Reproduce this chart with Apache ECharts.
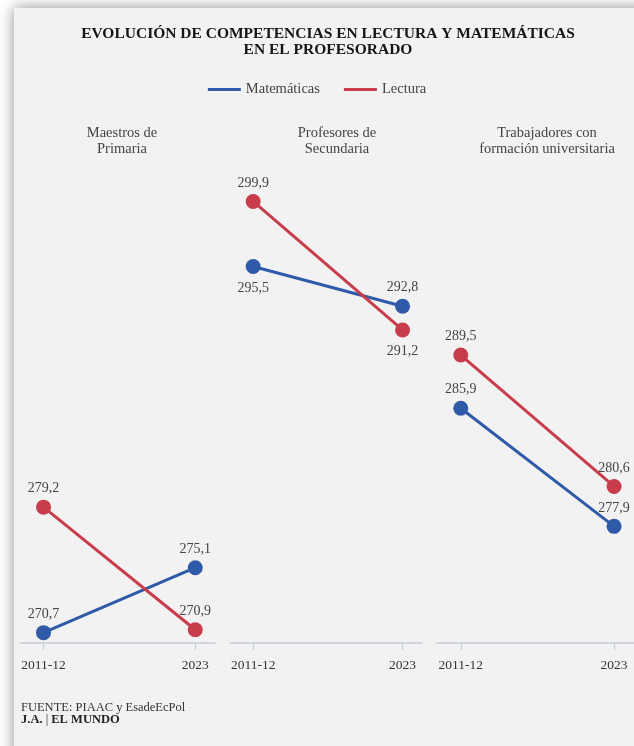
<!DOCTYPE html>
<html>
<head>
<meta charset="utf-8">
<script src="https://cdn.jsdelivr.net/npm/echarts@6/dist/echarts.min.js"></script>
<style>
html,body{margin:0;padding:0;background:#ffffff;}
#c{width:634px;height:746px;}
</style>
</head>
<body>
<div id="c"></div>
<script>
// ---- data ----
const categories = ['2011-12', '2023'];
const panelTitles = ['Maestros de\nPrimaria', 'Profesores de\nSecundaria', 'Trabajadores con\nformación universitaria'];
const seriesNames = ['Matemáticas', 'Lectura'];
const matematicas = [[270.7, 275.1], [295.5, 292.8], [285.9, 277.9]];
const lectura = [[279.2, 270.9], [299.9, 291.2], [289.5, 280.6]];

// ---- style / layout ----
const FONT = 'Liberation Serif';
const colors = ['#2f5aa8', '#c83c4c'];
const grids = [
  {left: 20, width: 195, center: 117},
  {left: 230, width: 192, center: 332},
  {left: 437, width: 197, center: 542}
];
const labelPos = [
  [['top', 'top'], ['bottom', 'top'], ['top', 'top']],
  [['top', 'top'], ['top', 'bottom'], ['top', 'top']]
];
const fmt = v => v.toFixed(1).replace('.', ',');

const chart = echarts.init(document.getElementById('c'), null, {renderer: 'canvas'});

const grid = [], xAxis = [], yAxis = [], series = [], titles = [];
titles.push({
  text: 'EVOLUCIÓN DE COMPETENCIAS EN LECTURA Y MATEMÁTICAS\nEN EL PROFESORADO',
  left: 323, top: 21, textAlign: 'center',
  textStyle: {fontFamily: FONT, fontWeight: 'bold', fontSize: 15.5, lineHeight: 16, color: '#151515'}
});
titles.push({
  text: 'FUENTE: PIAAC y EsadeEcPol\n{b|J.A.} | {b|EL MUNDO}',
  left: 16, top: 697,
  textStyle: {fontFamily: FONT, fontWeight: 'normal', fontSize: 12.5, lineHeight: 12, color: '#333',
    rich: {b: {fontFamily: FONT, fontSize: 12.5, fontWeight: 'bold', color: '#222', lineHeight: 12}}}
});
grids.forEach((g, i) => {
  grid.push({left: g.left, width: g.width, top: 200, height: 443});
  xAxis.push({
    type: 'value', gridIndex: i, min: -0.155, max: 1.13,
    axisLine: {show: true, onZero: false, lineStyle: {color: '#c5cdd9', width: 1.5}},
    axisTick: {show: true, customValues: [0, 1], length: 7, lineStyle: {color: '#c5cdd9', width: 1.2}},
    axisLabel: {customValues: [0, 1], formatter: v => categories[Math.round(v)], margin: 15,
      fontFamily: FONT, fontSize: 13.5, color: '#333'},
    splitLine: {show: false}
  });
  yAxis.push({type: 'value', gridIndex: i, min: 270, max: 300, show: false, splitLine: {show: false}});
  titles.push({
    text: panelTitles[i], left: g.center, top: 120, textAlign: 'center',
    textStyle: {fontFamily: FONT, fontWeight: 'normal', fontSize: 14.5, lineHeight: 16, color: '#444'}
  });
  [matematicas, lectura].forEach((arr, s) => {
    series.push({
      type: 'line', name: seriesNames[s], xAxisIndex: i, yAxisIndex: i,
      symbol: 'circle', symbolSize: 15,
      color: colors[s],
      lineStyle: {width: 3, color: colors[s]},
      itemStyle: {color: colors[s]},
      z: 2 + s,
      label: {show: true, fontFamily: FONT, fontSize: 14, color: '#444', formatter: p => fmt(p.value[1])},
      emphasis: {disabled: true},
      data: arr[i].map((v, j) => {
        const pos = labelPos[s][i][j];
        return {value: [j, v], label: {position: pos, distance: pos === 'top' ? 4 : 7}};
      })
    });
  });
});

chart.setOption({
  backgroundColor: '#ffffff',
  animation: false,
  graphic: [{
    type: 'rect', z: -10, silent: true,
    shape: {x: 14, y: 8, width: 700, height: 800},
    style: {fill: '#f2f2f2', shadowBlur: 14, shadowColor: 'rgba(0,0,0,0.45)'}
  }],
  title: titles,
  legend: {
    data: seriesNames, top: 77, left: 'center', icon: 'rect', itemWidth: 33, itemHeight: 3, itemGap: 24,
    textStyle: {fontFamily: FONT, fontSize: 14.5, color: '#444'}
  },
  grid, xAxis, yAxis, series
});
</script>
</body>
</html>
